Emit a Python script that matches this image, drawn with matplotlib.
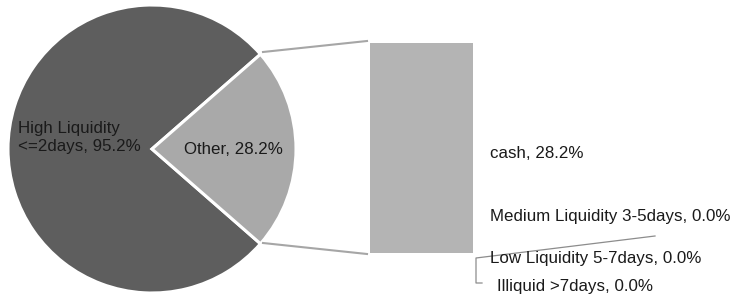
import matplotlib
matplotlib.use("Agg")
import matplotlib.pyplot as plt
from matplotlib.lines import Line2D

# Data
pie_labels = ["High Liquidity\n<=2days", "Other"]
pie_values = [95.2, 28.2]
bar_labels = ["cash", "Medium Liquidity 3-5days", "Low Liquidity 5-7days", "Illiquid >7days"]
bar_values = [28.2, 0.0, 0.0, 0.0]

DARK = "#5e5e5e"
LIGHT = "#a9a9a9"
BAR = "#b4b4b4"
LINE = "#a6a6a6"
TXT = "#1a1a1a"

W, H = 738, 295
plt.rcParams["font.family"] = ["Liberation Sans", "DejaVu Sans"]
fig = plt.figure(figsize=(W / 100, H / 100), dpi=100)


def px(x, y):
    """pixel (top-left origin) -> figure fraction"""
    return x / W, 1 - y / H


# Pie
cx, cy, r = 152, 149, 144
ax1 = fig.add_axes([(cx - r) / W, (H - cy - r) / H, 2 * r / W, 2 * r / H])
start = pie_values[1] / sum(pie_values) * 180
ax1.pie(pie_values, colors=[DARK, LIGHT], startangle=start, counterclock=True,
        wedgeprops=dict(edgecolor="white", linewidth=2.2))
ax1.set_aspect("auto")
ax1.set_xlim(-1, 1)
ax1.set_ylim(-1, 1)
ax1.axis("off")

# Stacked bar (second plot)
bx0, bx1, by0, by1 = 370, 473, 43, 253
ax2 = fig.add_axes([bx0 / W, (H - by1) / H, (bx1 - bx0) / W, (by1 - by0) / H])
bottom = 0
for v in bar_values:
    ax2.bar(0, v, bottom=bottom, width=1, color=BAR, edgecolor="none")
    bottom += v
ax2.set_xlim(-0.5, 0.5)
ax2.set_ylim(0, sum(bar_values))
ax2.axis("off")

# Connector lines pie -> bar
for (x0, y0), (x1, y1) in [((263, 52), (367, 41)), ((263, 243), (367, 254))]:
    a, b = px(x0, y0)
    c, d = px(x1, y1)
    fig.add_artist(Line2D([a, c], [b, d], color=LINE, lw=1.5))

# Label leader lines for the zero segments
pts = [px(655, 236), px(476, 258), px(476, 283), px(482, 283)]
fig.add_artist(Line2D([p[0] for p in pts], [p[1] for p in pts], color="#8c8c8c", lw=0.9))

fs = 12.2
x, y = px(18, 138)
fig.text(x, y, f"{pie_labels[0]}, {pie_values[0]:.1f}%", fontsize=fs, color=TXT,
         va="center", ha="left", linespacing=1.25)
x, y = px(184, 149)
fig.text(x, y, f"{pie_labels[1]}, {pie_values[1]:.1f}%", fontsize=fs, color=TXT,
         va="center", ha="left")

label_pos = [(490, 153), (490, 217), (490, 258), (497, 286)]
for lab, v, (lx, ly) in zip(bar_labels, bar_values, label_pos):
    x, y = px(lx, ly)
    fig.text(x, y, f"{lab}, {v:.1f}%", fontsize=fs, color=TXT, va="center", ha="left")

fig.savefig("out.png", dpi=100, facecolor="white")
